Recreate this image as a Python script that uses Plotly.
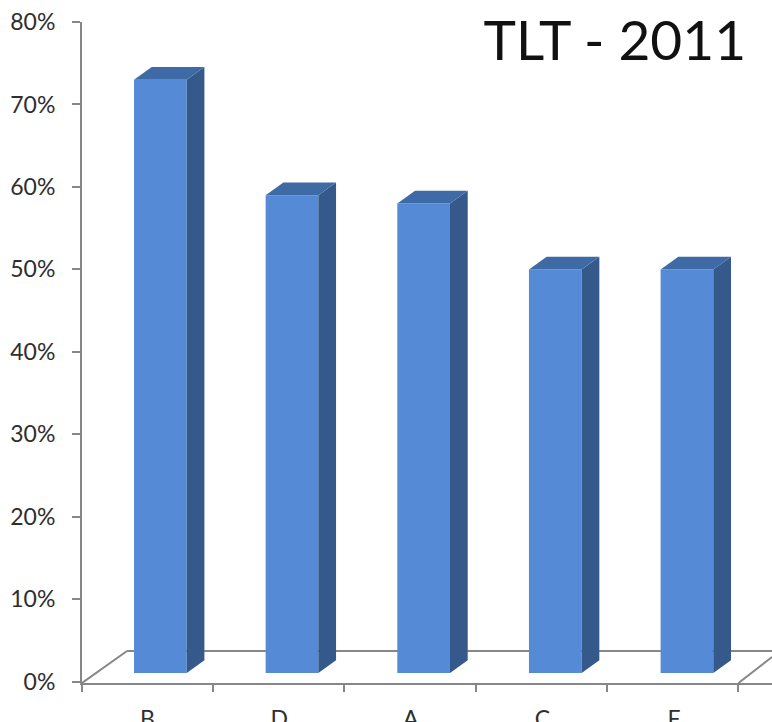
import plotly.graph_objects as go

categories = ["B", "D", "A", "C", "F"]
values = [73, 59, 58, 50, 50]
y_ticks = [0, 10, 20, 30, 40, 50, 60, 70, 80]
y_labels = ["0%", "10%", "20%", "30%", "40%", "50%", "60%", "70%", "80%"]

FONT = "Lato, Carlito, sans-serif"
TEXT = "#2e2e2e"
AXIS = "#878787"
FRONT = "#558bd6"
SIDE = "#34598a"
TOP = "#3e6ba5"

W, H = 772, 722
L, T, B = 82, 22, 39
UX = 131.65            # px per category
UY = (681.7 - 22) / 80 # px per percent
X0 = 147.5             # pixel of category 0
xmin = (L - X0) / UX
xmax = (W - X0) / UX
ymin = -(H - B - 681.7) / UY

idx = list(range(len(categories)))
bar_off = (134 - X0) / UX
bar_w = 52.7 / UX
base = (681.7 - 673) / UY
dx = 17.7 / UX
dy = 12.7 / UY

side_x, side_y, top_x, top_y = [], [], [], []
for i, v in zip(idx, values):
    l = i + bar_off
    r = l + bar_w
    side_x += [r, r + dx, r + dx, r, r, None]
    side_y += [base, base + dy, v + dy, v, base, None]
    top_x += [l, l + dx, r + dx, r, l, None]
    top_y += [v, v + dy, v + dy, v, v, None]

fig = go.Figure()
fig.add_trace(go.Bar(x=idx, y=[v - base for v in values], base=base, width=bar_w, offset=bar_off,
                     marker=dict(color=FRONT, line=dict(width=0)), hoverinfo="skip"))
fig.add_trace(go.Scatter(x=side_x, y=side_y, mode="lines", fill="toself", fillcolor=SIDE,
                         line=dict(width=0, color=SIDE), hoverinfo="skip"))
fig.add_trace(go.Scatter(x=top_x, y=top_y, mode="lines", fill="toself", fillcolor=TOP,
                         line=dict(width=0, color=TOP), hoverinfo="skip"))

floor_back = (681.7 - 651) / UY
front_r = (738.5 - X0) / UX
back_l = (127 - X0) / UX
right_y = (681.7 - 657) / UY
line = dict(color=AXIS, width=2)
fig.add_shape(type="line", layer="below", x0=xmin, y0=ymin, x1=back_l, y1=floor_back, line=line)
fig.add_shape(type="line", layer="below", x0=back_l, y0=floor_back, x1=xmax, y1=floor_back, line=line)
fig.add_shape(type="line", layer="below", x0=front_r, y0=ymin, x1=xmax, y1=right_y, line=line)

tick_step = 131.2 / UX
fig.update_layout(
    width=W, height=H, autosize=False,
    margin=dict(l=L, r=0, t=T, b=B, pad=0, autoexpand=False),
    paper_bgcolor="white", plot_bgcolor="white", showlegend=False,
    font=dict(family=FONT, color=TEXT, size=23),
    title=dict(text="TLT - 2011", font=dict(family=FONT, size=55, color="#111111"),
               x=743 / W, xanchor="right", xref="paper", y=1 - 41 / H, yanchor="middle",
               automargin=False),
    xaxis=dict(range=[xmin, xmax], tickmode="array", tickvals=idx, ticktext=categories,
               ticks="", ticklabelstandoff=14, showgrid=False, zeroline=False, automargin=False,
               showline=True, linecolor=AXIS, linewidth=2,
               tickfont=dict(size=23),
               minor=dict(tickmode="array", tickvals=[xmin + tick_step * k for k in range(6)],
                          ticks="outside", ticklen=7, tickwidth=2, tickcolor=AXIS, showgrid=False)),
    yaxis=dict(range=[ymin, 80], tickmode="array", tickvals=y_ticks, ticktext=y_labels, automargin=False,
               ticks="outside", ticklen=8, tickwidth=2, tickcolor=AXIS, ticklabelstandoff=12,
               showgrid=False, zeroline=False, showline=True, linecolor=AXIS, linewidth=2),
)
fig.write_html("out.html", config=dict(displayModeBar=False),
               post_script="document.body.style.margin='0';")
